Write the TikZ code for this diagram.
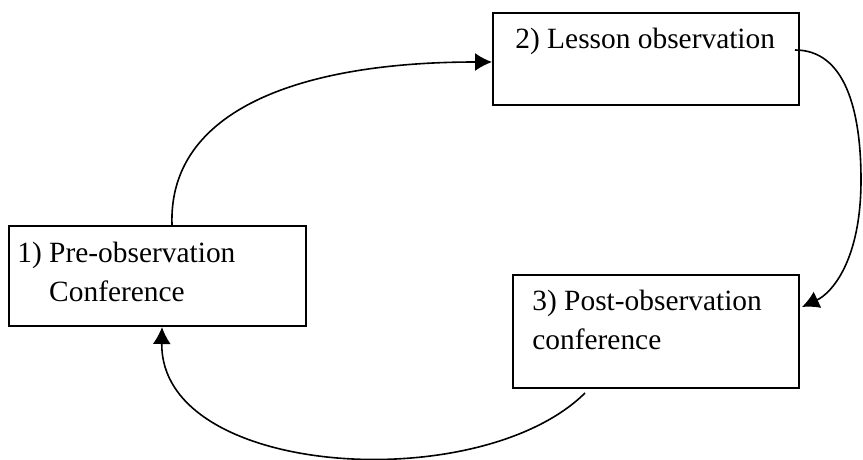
\documentclass[tikz,border=0pt]{standalone}
\usepackage{fontspec}
\setmainfont{Liberation Serif}
\usetikzlibrary{arrows.meta,positioning,calc}

\begin{document}
\begin{tikzpicture}[
x=0.5pt,y=-0.5pt,
box/.style={
  draw,
  line width=1pt,
  inner sep=0pt
  },
txt/.style={
  anchor=base west,
  inner sep=0pt,
  align=left,
  font=\fontsize{14.7}{19.5}\selectfont
  },
ar/.style={
  -{Latex[length=8.5pt,width=9pt]},
  line width=0.8pt
  }
]

\useasboundingbox (0,0) rectangle (863,460);

%The boxes
\node[box, minimum width=148.5pt, minimum height=50pt] (prec) at (157.5,276) {};
\node[box, minimum width=153pt, minimum height=46pt] (lesson) at (646,59) {};
\node[box, minimum width=143pt, minimum height=56.5pt] (post) at (656,331.5) {};

%The texts (base = last line)
\node[txt] (prect) at ($(prec.north west)+(9,76)$)
  {1) Pre-observation\\\hphantom{1)}\ Conference};
\node[txt] (lessont) at ($(lesson.north west)+(23,37)$)
  {2) Lesson observation};
\node[txt] (postt) at ($(post.north west)+(20,75)$)
  {3) Post-observation\\conference};

%Aux
\coordinate (rgt) at (861,180);

\draw[ar] ([xshift=7.25pt]prec.north) .. controls (168,110) and (300,62) .. ([yshift=-1.5pt]lesson.west);
\draw[ar] ([xshift=-2.5pt,yshift=4.5pt]lesson.east) .. controls (845,50) and (861,110) .. (rgt)
  .. controls (861,260) and (832,293) .. ([xshift=1pt,yshift=12.25pt]post.east);
\draw[ar] ([xshift=-35.5pt,yshift=-2pt]post.south) .. controls (480,497) and (160,478) .. ([xshift=2.25pt]prec.south);

\end{tikzpicture}
\end{document}
